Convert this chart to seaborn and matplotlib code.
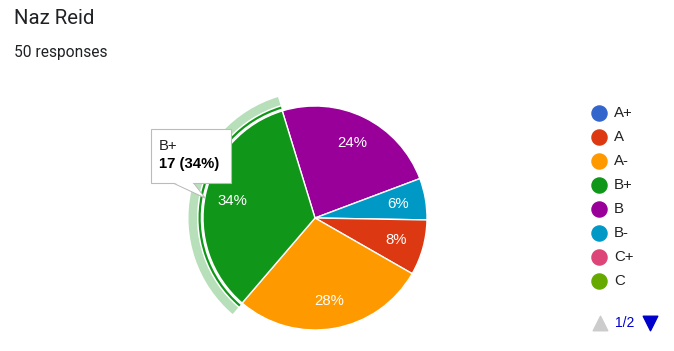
import matplotlib
matplotlib.use("Agg")
import matplotlib.pyplot as plt
import seaborn as sns
from matplotlib.patches import Wedge, Polygon, FancyBboxPatch

# data (50 responses)
title = "Naz Reid"
subtitle = "50 responses"
legend_labels = ["A+", "A", "A-", "B+", "B", "B-", "C+", "C"]
legend_colors = ["#3366CC", "#DC3912", "#FF9900", "#109618", "#990099", "#0099C6", "#DD4477", "#66AA00"]
slice_labels = ["B", "B-", "A", "A-", "B+"]
slice_counts = [12, 3, 4, 14, 17]
highlight = "B+"

sns.set_theme(style="white")
plt.rcParams['font.family'] = ['Liberation Sans', 'DejaVu Sans']

W, H = 674, 351
fig = plt.figure(figsize=(W / 100, H / 100), dpi=100)
ax = fig.add_axes([0, 0, 1, 1])

cx, cy, R = 315, H - 218, 112
colors = [legend_colors[legend_labels.index(l)] for l in slice_labels]
wedges, texts, autotexts = ax.pie(
    slice_counts, colors=colors, startangle=107, counterclock=False,
    center=(cx, cy), radius=R, autopct=lambda p: f"{p:.0f}%", pctdistance=0.75,
    wedgeprops=dict(edgecolor="white", linewidth=1),
    textprops=dict(color="white", fontsize=10.8))

# hover highlight on the B+ slice
w = wedges[slice_labels.index(highlight)]
ax.add_patch(Wedge((cx, cy), 126.5, w.theta1, w.theta2, width=8.5,
                   facecolor="#B7DFB9", edgecolor="none"))
ax.add_patch(Wedge((cx, cy), 116.5, w.theta1, w.theta2, width=2.2,
                   facecolor="#109618", edgecolor="none"))

# tooltip
ax.add_patch(Polygon([(172, H - 182.5), (193, H - 182.5), (205, H - 198)],
                     closed=True, facecolor="white", edgecolor="#BBBBBB", linewidth=0.8, zorder=5))
ax.add_patch(FancyBboxPatch((151, H - 183), 80, 54, boxstyle="square,pad=0",
                            facecolor="white", edgecolor="#BBBBBB", linewidth=0.8, zorder=5))
ax.add_patch(Polygon([(173, H - 182.2), (192, H - 182.2), (203, H - 196)],
                     closed=True, facecolor="white", edgecolor="none", zorder=6))
hi = slice_labels.index(highlight)
ax.text(159, H - 146, highlight, fontsize=10.7, color="#222222", va="center", zorder=7)
ax.text(159, H - 164, f"{slice_counts[hi]} ({slice_counts[hi] / sum(slice_counts) * 100:.0f}%)",
        fontsize=10.7, fontweight="bold", color="#000000", va="center", zorder=7)

# legend
for i, (lab, col) in enumerate(zip(legend_labels, legend_colors)):
    y = H - (113 + 24 * i)
    ax.scatter(599, y, s=118, color=col, zorder=3)
    ax.text(614, y, lab, fontsize=10.8, color="#222222", va="center")

# pager
ax.scatter(600, H - 323, marker="^", s=110, color="#CCCCCC")
ax.text(625, H - 323, "1/2", fontsize=10, color="#0000CC", ha="center", va="center")
ax.scatter(650, H - 323, marker="v", s=110, color="#0000CC")

# header
fig.text(14 / W, 1 - 18 / H, title, fontsize=14.7, family=["Roboto", "DejaVu Sans"],
         color="#202124", va="center")
fig.text(14 / W, 1 - 53 / H, subtitle, fontsize=11.2, family=["Roboto", "DejaVu Sans"],
         color="#202124", va="center")

ax.set_xlim(0, W)
ax.set_ylim(0, H)
ax.set_aspect("auto")
ax.axis("off")

fig.savefig("out.png", dpi=100)
plt.close()
